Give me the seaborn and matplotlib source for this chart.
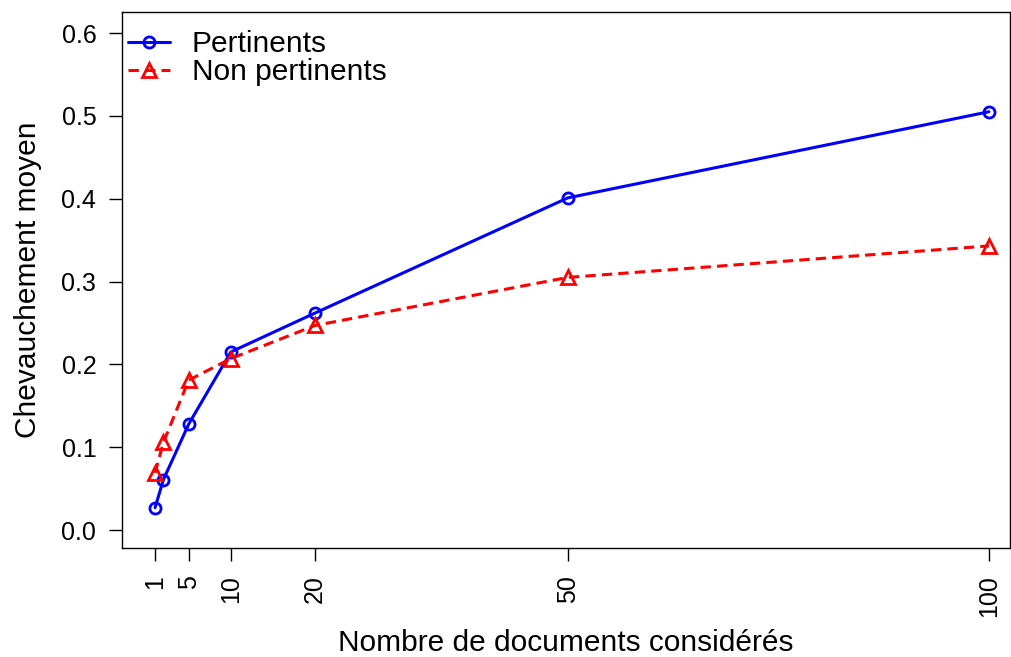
import matplotlib
matplotlib.use("Agg")
import matplotlib.pyplot as plt
import seaborn as sns
import pandas as pd

x_vals = [1, 2, 5, 10, 20, 50, 100]
pertinents = [0.027, 0.061, 0.128, 0.215, 0.262, 0.401, 0.505]
non_pertinents = [0.069, 0.106, 0.181, 0.207, 0.247, 0.305, 0.343]
x_ticks = [1, 5, 10, 20, 50, 100]
y_ticks = [0.0, 0.1, 0.2, 0.3, 0.4, 0.5, 0.6]

sns.set_style("white")
plt.rcParams['font.family'] = ['Liberation Sans', 'DejaVu Sans']
plt.rcParams['text.color'] = 'black'
plt.rcParams['axes.labelcolor'] = 'black'
plt.rcParams['xtick.color'] = 'black'
plt.rcParams['ytick.color'] = 'black'

fig = plt.figure(figsize=(10.11, 6.57), dpi=100)
ax = fig.add_axes([0.1207, 0.1659, 0.8783, 0.8158])

df = pd.DataFrame({"x": x_vals, "Pertinents": pertinents, "Non pertinents": non_pertinents})

dash = [3.4, 2.0]
sns.lineplot(data=df, x="x", y="Pertinents", ax=ax, color="#0000FF", linewidth=2.2,
             marker="o", markersize=8, markerfacecolor="none", markeredgecolor="#0000FF",
             markeredgewidth=2, label="Pertinents")
sns.lineplot(data=df, x="x", y="Non pertinents", ax=ax, color="#FF0000", linewidth=2.2,
             marker="^", markersize=10, markerfacecolor="none", markeredgecolor="#FF0000",
             markeredgewidth=2, label="Non pertinents")
ax.lines[1].set_dashes(dash)

ax.set_xlim(-2.92, 102.5)
ax.set_ylim(-0.0217, 0.6254)
ax.set_xticks(x_ticks)
ax.set_xticklabels([str(t) for t in x_ticks], rotation=90)
ax.set_yticks(y_ticks)
ax.set_yticklabels([f"{t:.1f}" for t in y_ticks])
ax.tick_params(axis="both", labelsize=18, length=9.5, width=1, direction="out",
               bottom=True, left=True, colors="black")
ax.tick_params(axis="y", pad=9)
ax.tick_params(axis="x", pad=10)
ax.set_xlabel("Nombre de documents considérés", fontsize=21.5, labelpad=9)
ax.set_ylabel("Chevauchement moyen", fontsize=21.5, labelpad=14)
for s in ax.spines.values():
    s.set_color("black")
    s.set_linewidth(1)

leg = ax.legend(loc="upper left", bbox_to_anchor=(0.0034, 0.972), frameon=False,
                fontsize=21.5, handlelength=1.4, borderaxespad=0.0, borderpad=0.1,
                labelspacing=0.0, handletextpad=0.74)
leg.get_lines()[1].set_dashes(dash)

fig.savefig("out.png", dpi=100)
